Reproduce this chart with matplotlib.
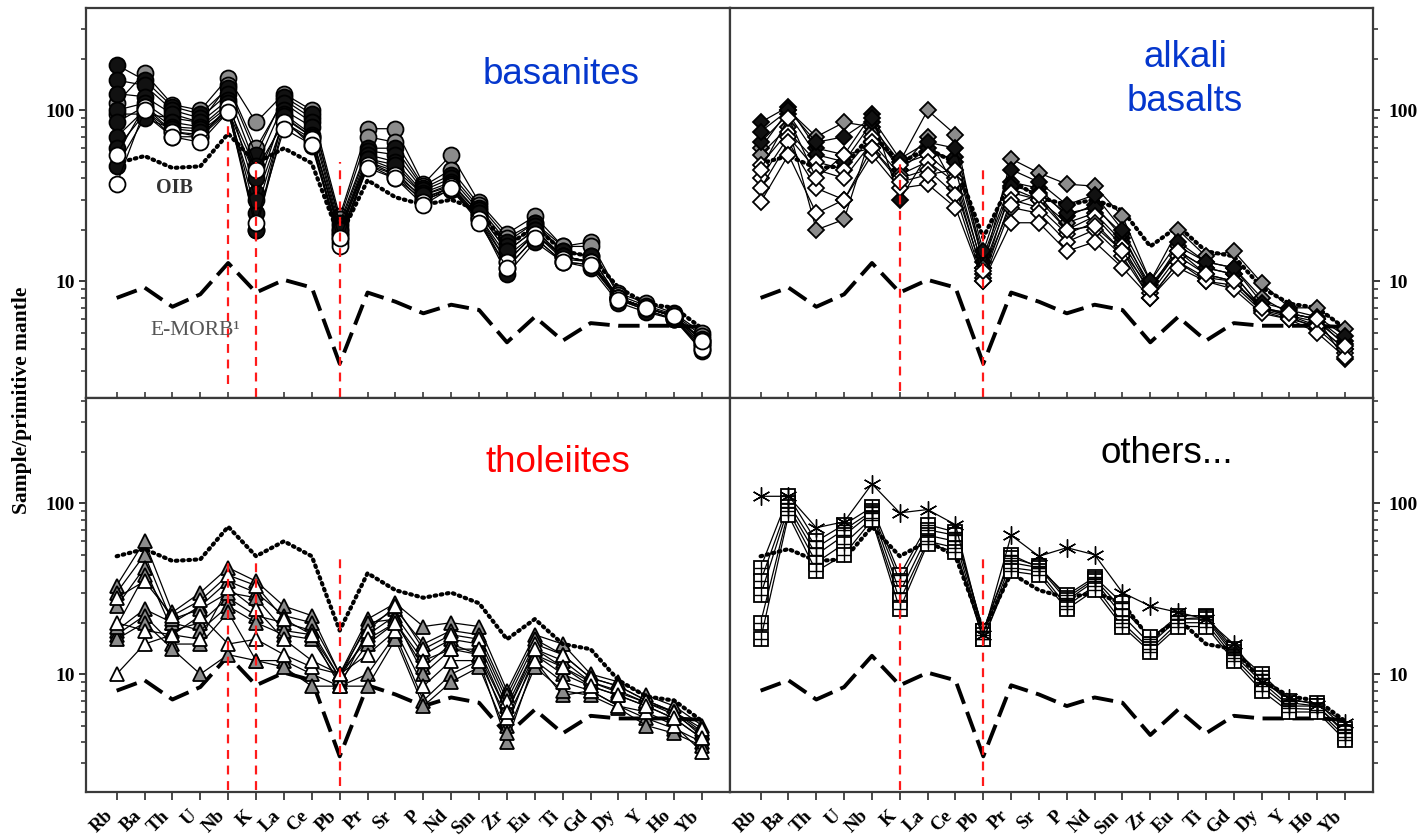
import matplotlib
matplotlib.use("Agg")
import matplotlib.pyplot as plt
from matplotlib.ticker import LogLocator, NullFormatter, FixedLocator, FixedFormatter

# ---------------- data ----------------
elements = ["Rb", "Ba", "Th", "U", "Nb", "K", "La", "Ce", "Pb", "Pr", "Sr", "P",
            "Nd", "Sm", "Zr", "Eu", "Ti", "Gd", "Dy", "Y", "Ho", "Yb"]

emorb = [8.0, 9.2, 7.1, 8.4, 12.8, 8.6, 10.2, 9.2, 3.3, 8.6, 7.6, 6.5,
         7.3, 6.8, 4.4, 6.2, 4.5, 5.7, 5.5, 5.5, 5.5, 5.4]
oib = [49, 54, 46, 47, 73, 49, 60, 49, 18, 39, 31, 28,
       30, 26, 16, 21, 15, 14, 9.2, 7.4, 7.0, 5.3]

basanites = [
    [110, 165, 108, 100, 155, 85, 125, 100, 24, 78, 78, 37, 55, 29, 19, 24, 16, 17, 8.5, 7.5, 6.5, 5.0],
    [95, 95, 90, 85, 140, 60, 115, 90, 23, 70, 65, 36, 45, 28, 18, 22, 16, 16, 8.3, 7.2, 6.4, 4.8],
    [184, 150, 105, 95, 135, 55, 120, 95, 22, 60, 60, 35, 42, 27, 17, 22, 15, 14, 8.0, 7.0, 6.3, 4.5],
    [150, 140, 100, 90, 125, 47, 110, 85, 21, 58, 55, 34, 40, 26, 16, 21, 15, 14, 8.0, 7.0, 6.2, 4.5],
    [125, 120, 95, 85, 115, 33, 100, 80, 20, 55, 50, 33, 38, 25, 15, 20, 14, 13, 8.0, 7.0, 6.2, 4.3],
    [100, 110, 85, 80, 110, 20, 95, 72, 19, 52, 45, 32, 36, 24, 13, 19, 14, 13, 7.8, 6.8, 6.0, 4.2],
    [85, 105, 80, 78, 105, 25, 90, 70, 19, 50, 42, 31, 35, 23, 12, 18, 13, 12.5, 7.8, 6.8, 6.0, 4.0],
    [70, 100, 75, 72, 100, 20, 85, 65, 18, 48, 40, 30, 34, 23, 11, 17, 13, 12, 7.5, 6.6, 6.0, 3.9],
    [60, 95, 70, 70, 98, 30, 88, 62, 17, 50, 44, 30, 36, 24, 14, 19, 14, 13, 8.0, 7.0, 6.2, 4.3],
    [47, 90, 78, 75, 100, 40, 92, 70, 20, 52, 48, 32, 37, 25, 15, 20, 14, 13, 8.0, 7.0, 6.3, 4.6],
    [55, 105, 75, 70, 105, 45, 85, 68, 16, 48, 42, 29, 36, 23, 13, 19, 13.5, 13, 8.0, 7.0, 6.2, 4.0],
    [37, 100, 70, 65, 98, 22, 78, 63, 18, 46, 40, 28, 35, 22, 12, 18, 13, 12.5, 7.8, 7.0, 6.3, 4.5],
]
basanites_fill = ["g", "g", "k", "k", "k", "k", "k", "k", "k", "k", "w", "w"]

alkali = [
    [60, 100, 70, 85, 80, 50, 100, 72, 12, 52, 43, 37, 36, 24, 10, 20, 14, 15, 9.8, 7.0, 7.0, 5.3],
    [55, 80, 20, 23, 75, 45, 70, 35, 11, 35, 30, 22, 25, 17, 9, 16, 13, 12, 8.0, 6.5, 6.0, 3.5],
    [85, 105, 60, 55, 95, 30, 55, 53, 14, 38, 35, 24, 28, 18, 9.5, 15, 12, 11, 7.0, 6.5, 6.0, 4.5],
    [65, 95, 55, 50, 85, 45, 60, 50, 13, 36, 33, 25, 27, 19, 9, 15, 12, 11, 7.0, 6.3, 5.8, 4.3],
    [75, 100, 65, 70, 90, 52, 65, 60, 15, 45, 38, 28, 32, 20, 10, 17, 13, 12, 7.5, 6.8, 6.2, 4.8],
    [48, 75, 50, 45, 70, 48, 55, 40, 12, 33, 30, 20, 24, 16, 8.5, 14, 11, 10, 7.0, 6.3, 5.5, 4.0],
    [40, 70, 45, 40, 65, 42, 50, 38, 10.5, 30, 27, 19, 22, 15, 8, 13, 10.5, 10, 6.8, 6.2, 5.3, 3.8],
    [35, 65, 35, 30, 60, 40, 45, 32, 10, 27, 25, 17, 20, 14, 8, 13, 10, 9.5, 6.7, 6.0, 5.5, 4.0],
    [29, 55, 25, 30, 55, 35, 37, 27, 10, 22, 22, 15, 17, 12, 8, 12, 10, 9, 6.5, 6.0, 5.0, 3.6],
    [45, 90, 40, 55, 60, 38, 42, 45, 11.5, 28, 32, 20, 21, 15, 9, 15, 11, 10, 7.0, 6.5, 6.0, 4.2],
]
alkali_fill = ["g", "g", "k", "k", "k", "w", "w", "w", "w", "w"]

tholeiites = [
    [33, 60, 23, 30, 42, 35, 25, 22, 10, 21, 26, 19, 20, 19, 8, 17, 15, 10, 9.0, 7.5, 6.5, 5.0],
    [30, 50, 20, 25, 35, 30, 22, 20, 10, 19, 24, 15, 18, 17, 7.5, 16, 13, 9.5, 8.5, 7.0, 6.0, 4.6],
    [25, 42, 18, 20, 28, 22, 20, 18, 9.5, 17, 22, 13, 16, 15, 6.5, 14, 12, 9, 8.0, 6.8, 5.8, 4.5],
    [18, 24, 20, 18, 25, 20, 17, 16, 9, 15, 20, 11, 15, 13, 5, 13, 10, 8.5, 7.5, 6.5, 5.5, 4.2],
    [17, 22, 15, 15, 23, 12, 12, 10, 8.5, 10, 17, 7, 10, 12, 4, 12, 7.5, 8, 6.5, 5.5, 4.8, 4.0],
    [16, 20, 14, 10, 13, 12, 11, 8.5, 8.5, 8.5, 16, 6.5, 9, 11, 4.5, 11, 8, 7.5, 6.3, 5.0, 4.5, 3.8],
    [19, 38, 21, 24, 30, 28, 18, 17, 9.5, 20, 21, 10, 14, 13, 6, 13, 11, 9, 7.8, 6.8, 6.0, 4.3],
    [10, 15, 17, 22, 15, 16, 13, 11, 10, 13, 18, 8.5, 12, 12, 5.5, 12, 9, 8, 6.5, 6.0, 5.0, 3.5],
    [28, 35, 22, 27, 38, 33, 21, 17, 8.5, 18, 25, 14, 17, 16, 7, 15, 13, 9.5, 8.5, 7.0, 6.0, 4.8],
    [20, 18, 17, 16, 32, 24, 16, 12, 10, 16, 20, 12, 14, 14, 6, 14, 11, 8.5, 7.5, 6.5, 5.5, 4.2],
]
tholeiites_fill = ["g", "g", "g", "g", "g", "g", "g", "w", "w", "w"]

others_squares = [
    [42, 110, 60, 75, 95, 38, 75, 68, 18, 50, 42, 29, 37, 26, 16, 22, 22, 14, 10, 7.0, 6.8, 4.8],
    [35, 100, 55, 70, 90, 35, 70, 65, 18, 48, 43, 28, 36, 24, 16.5, 21, 21.5, 13.5, 9.5, 6.8, 6.5, 4.6],
    [29, 95, 50, 65, 88, 30, 65, 60, 17, 45, 42, 27, 35, 22, 15, 21, 21, 13, 9.0, 6.5, 6.5, 4.5],
    [20, 90, 45, 58, 82, 27, 60, 55, 16, 42, 40, 25, 33, 20, 14, 20, 20, 12.5, 8.5, 6.3, 6.2, 4.3],
    [16, 85, 40, 50, 80, 24, 58, 52, 16, 40, 38, 24, 31, 19, 13.5, 19, 19, 12, 8.0, 6.0, 6.0, 4.1],
]
others_star = [110, 110, 72, 78, 130, 88, 92, 75, 17, 65, 49, 55, 50, 30, 25, 23, 21, 15, 9.0, 7.2, 6.6, 5.2]

# red guide lines: (element, top value, bottom value)
guides_basanites = [("Nb", 85, 2.5), ("K", 50, 2.1), ("Pb", 50, 2.1)]
guides_alkali = [("K", 52, 2.3), ("Pb", 48, 2.1)]
guides_tholeiites = [("Nb", 48, 2.1), ("K", 47, 2.1), ("Pb", 49, 2.2)]
guides_others = [("K", 47, 2.1), ("Pb", 49, 2.2)]

# ---------------- style ----------------
SERIF = ["Liberation Serif", "DejaVu Serif"]
SANS = ["Liberation Sans", "DejaVu Sans"]
FILL = {"k": "#111111", "g": "#8c8c8c", "w": "white"}
SPINE = "#3a3a3a"

W, H = 1417, 839
fig = plt.figure(figsize=(W / 100, H / 100), dpi=100)


def rect(x0, y0, x1, y1):
    return [x0 / W, 1 - y1 / H, (x1 - x0) / W, (y1 - y0) / H]


ax1 = fig.add_axes(rect(86, 8, 730, 398))
ax2 = fig.add_axes(rect(730, 8, 1373, 398))
ax3 = fig.add_axes(rect(86, 398, 730, 792))
ax4 = fig.add_axes(rect(730, 398, 1373, 792))

xs = list(range(len(elements)))


def setup(ax, top, right):
    ax.set_yscale("log")
    ax.set_xlim(-1.1, 22.0)
    ax.set_ylim((2.08, 396) if top else (2.04, 414))
    for s in ax.spines.values():
        s.set_color(SPINE)
        s.set_linewidth(1.6)
    ax.yaxis.set_major_locator(FixedLocator([10, 100]))
    ax.yaxis.set_major_formatter(FixedFormatter(["10", "100"]))
    ax.yaxis.set_minor_locator(LogLocator(base=10, subs=range(2, 10)))
    ax.yaxis.set_minor_formatter(NullFormatter())
    if right:
        ax.tick_params(axis="y", which="both", left=False, right=True,
                       labelleft=False, labelright=True, direction="out",
                       color=SPINE)
        ax.tick_params(axis="y", which="major", length=5, width=1.4, pad=6)
    else:
        ax.tick_params(axis="y", which="both", direction="out", color=SPINE)
        ax.tick_params(axis="y", which="major", length=5, width=1.4, pad=3)
    ax.tick_params(axis="y", which="minor", length=3.5, width=1.2)
    for lab in ax.get_yticklabels():
        lab.set_fontfamily(SERIF)
        lab.set_fontweight("bold")
        lab.set_fontsize(14)
    ax.set_xticks(xs)
    if top:
        ax.tick_params(axis="x", direction="in", length=4, width=1.2,
                       labelbottom=False, color=SPINE)
    else:
        ax.set_xticklabels(elements, rotation=45, ha="right",
                           fontfamily=SERIF, fontweight="bold", fontsize=13.5)
        ax.tick_params(axis="x", direction="out", length=6, width=1.3,
                       pad=5, color=SPINE)
    ax.minorticks_on()
    ax.tick_params(axis="x", which="minor", bottom=False, top=False)


def references(ax, oib_z=2):
    ax.plot(xs, emorb, color="black", lw=2.8, ls=(0, (5.5, 2.2)), zorder=2)
    ax.plot(xs, oib, color="black", lw=3.0, ls=(0, (0.4, 1.1)),
            dash_capstyle="round", zorder=oib_z)


def samples(ax, data, fills, marker, ms, order=("g", "k", "w")):
    for key in order:
        for vals, f in zip(data, fills):
            if f != key:
                continue
            ax.plot(xs, vals, color="black", lw=0.9, marker=marker, ms=ms,
                    mfc=FILL[f], mec="black", mew=1.3, zorder=3)


def guides(ax, items):
    for el, ytop, ybot in items:
        i = elements.index(el)
        ax.vlines(i, ybot, ytop, colors="#ff1a1a", linestyles=(0, (4, 3)),
                  lw=1.6, zorder=6)


for ax, top, right in [(ax1, True, False), (ax2, True, True),
                       (ax3, False, False), (ax4, False, True)]:
    setup(ax, top, right)

# panel 1 - basanites
references(ax1)
samples(ax1, basanites, basanites_fill, "o", 11.5)
guides(ax1, guides_basanites)

# panel 2 - alkali basalts
references(ax2, oib_z=2.5)
samples(ax2, alkali, alkali_fill, "D", 8.5)
guides(ax2, guides_alkali)

# panel 3 - tholeiites
references(ax3, oib_z=4)
samples(ax3, tholeiites, tholeiites_fill, "^", 10.5)
guides(ax3, guides_tholeiites)

# panel 4 - others
references(ax4, oib_z=2.5)
for vals in others_squares:
    ax4.plot(xs, vals, color="black", lw=0.9, marker="s", ms=9.5,
             mfc="white", mec="black", mew=1.3, zorder=3)
    ax4.plot(xs, vals, ls="none", marker="+", ms=9.5, mec="black",
             mew=1.0, zorder=3.1)
ax4.plot(xs, others_star, color="black", lw=0.9, marker=(6, 2, 0), ms=13,
         mec="black", mew=1.0, zorder=3.2)
guides(ax4, guides_others)

# ---------------- text ----------------
def ftext(x, y, s, **kw):
    fig.text(x / W, 1 - y / H, s, **kw)


ftext(483, 84, "basanites", fontsize=26.5, color="#0537cd",
      family=SANS, ha="left", va="baseline")
ftext(1185, 67, "alkali", fontsize=26.5, color="#0537cd",
      family=SANS, ha="center", va="baseline")
ftext(1185, 111, "basalts", fontsize=26.5, color="#0537cd",
      family=SANS, ha="center", va="baseline")
ftext(486, 472, "tholeiites", fontsize=26.5, color="#ff0000",
      family=SANS, ha="left", va="baseline")
ftext(1100, 463, "others...", fontsize=26.5, color="black",
      family=SANS, ha="left", va="baseline")

ftext(156, 193, "OIB", fontsize=14.5, color="#333333", family=SERIF,
      fontweight="bold", ha="left", va="baseline")
ftext(150, 335, "E-MORB\u00b9", fontsize=15.5, color="#555555", family=SERIF,
      ha="left", va="baseline")

ftext(22, 400, "Sample/primitive mantle", fontsize=15.5, family=SERIF,
      fontweight="bold", rotation=90, ha="center", va="center")

fig.savefig("out.png", dpi=100, facecolor="white")
